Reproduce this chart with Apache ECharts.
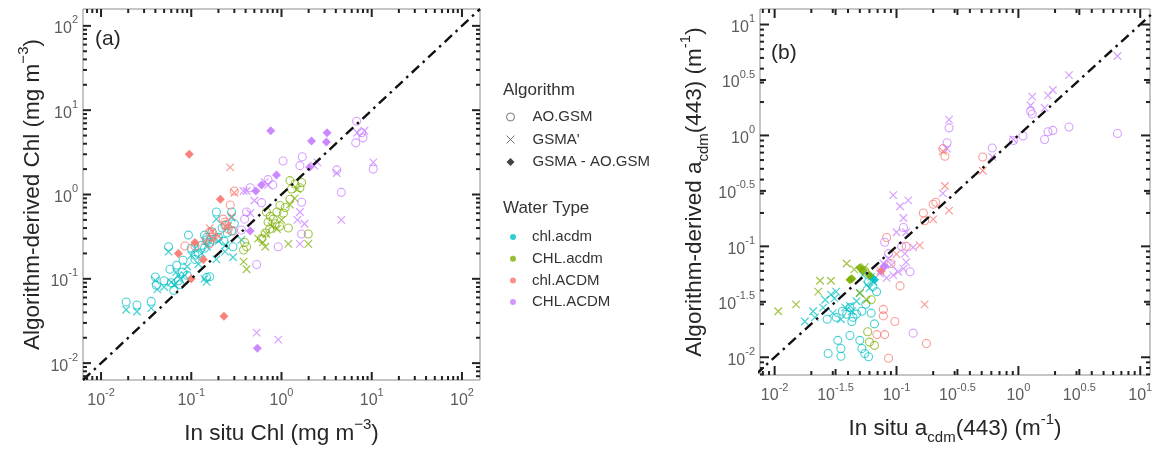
<!DOCTYPE html>
<html>
<head>
<meta charset="utf-8">
<script src="https://cdn.jsdelivr.net/npm/echarts@6/dist/echarts.min.js"></script>
<style>html,body{margin:0;padding:0;background:#fff}#c{width:1157px;height:450px}</style>
</head>
<body>
<div id="c"></div>
<script>
const FONT = "'Liberation Sans', Arial, Helvetica, sans-serif";

// ---------- categories ----------
const waterTypes = ['chl.acdm', 'CHL.acdm', 'chl.ACDM', 'CHL.ACDM'];
const waterColors = ['#00BFC4', '#7CAE00', '#F8766D', '#C77CFF'];
const algorithms = ['AO.GSM', "GSMA'", 'GSMA - AO.GSM'];

// ---------- axis extents & ticks ----------
const extA = [Math.pow(10, -2.2), Math.pow(10, 2.2)];
const extBX = [Math.pow(10, -2.12), Math.pow(10, 1.08)];
const extBY = [Math.pow(10, -2.16), Math.pow(10, 1.14)];

const ticksA = [0.01, 0.1, 1, 10, 100];
const tickLabelsA = ['-2', '-1', '0', '1', '2'];
const minorTicks = [0.007, 0.008, 0.009, 0.02, 0.03, 0.04, 0.05, 0.06, 0.07, 0.08, 0.09,
  0.2, 0.3, 0.4, 0.5, 0.6, 0.7, 0.8, 0.9, 2, 3, 4, 5, 6, 7, 8, 9,
  20, 30, 40, 50, 60, 70, 80, 90];
const ticksB = [0.01, 0.0316228, 0.1, 0.316228, 1, 3.16228, 10];
const tickLabelsB = ['-2', '-1.5', '-1', '-0.5', '0', '0.5', '1'];
const majorTicksB = [0.01, 0.1, 1, 10];
const halfTicksB = [0.0316228, 0.316228, 3.16228];

// ---------- panel (a): Chl, [in situ, derived] ----------
const a_chl_acdm_aogsm = [[0.019,0.053],[0.025,0.049],[0.036,0.054],[0.04,0.105],[0.041,0.084],[0.05,0.095],[0.056,0.24],[0.058,0.13],[0.06,0.09],[0.064,0.073],[0.069,0.145],[0.072,0.095],[0.075,0.085],[0.08,0.12],[0.081,0.166],[0.09,0.11],[0.093,0.33],[0.1,0.23],[0.11,0.19],[0.11,0.17],[0.12,0.2],[0.13,0.25],[0.14,0.33],[0.14,0.23],[0.148,0.29],[0.148,0.31],[0.148,0.104],[0.16,0.106],[0.16,0.27],[0.17,0.36],[0.19,0.62],[0.19,0.3],[0.2,0.31],[0.22,0.4],[0.23,0.28],[0.236,0.43],[0.25,0.35],[0.28,0.62],[0.28,0.37],[0.29,0.24],[0.3,0.45]];
const a_chl_acdm_gsma = [[0.019,0.043],[0.025,0.041],[0.036,0.045],[0.04,0.096],[0.042,0.075],[0.05,0.08],[0.056,0.21],[0.06,0.091],[0.065,0.085],[0.068,0.12],[0.072,0.11],[0.075,0.1],[0.085,0.11],[0.09,0.14],[0.1,0.19],[0.11,0.23],[0.12,0.15],[0.13,0.2],[0.14,0.1],[0.148,0.092],[0.15,0.24],[0.16,0.28],[0.19,0.51],[0.19,0.17],[0.2,0.28],[0.236,0.21],[0.24,0.25],[0.28,0.53],[0.29,0.18],[0.36,0.29]];
const a_chl_acdm_diff = [];
const a_CHL_acdm_aogsm = [[0.38,0.22],[0.39,0.27],[0.41,0.24],[0.6,0.3],[0.66,0.35],[0.68,0.62],[0.71,0.47],[0.74,0.39],[0.75,0.55],[0.81,0.51],[0.85,0.45],[0.89,0.62],[0.95,0.42],[0.96,0.74],[1.05,0.6],[1.1,0.7],[1.19,0.4],[1.24,0.88],[1.24,1.46],[1.29,1.16],[1.41,1.33],[1.6,1.2],[1.67,1.39],[1.98,0.34]];
const a_CHL_acdm_gsma = [[0.38,0.16],[0.41,0.13],[0.55,0.3],[0.62,0.27],[0.66,0.24],[0.68,0.34],[0.78,0.42],[0.89,0.39],[1.0,0.5],[1.19,0.26],[1.24,0.76],[1.4,0.9],[1.5,1.16],[1.98,0.26]];
const a_CHL_acdm_diff = [];
const a_chl_ACDM_aogsm = [[0.085,0.245],[0.11,0.245],[0.16,0.26],[0.16,0.36],[0.168,0.31],[0.175,0.34],[0.226,0.51],[0.236,0.47],[0.24,0.44],[0.257,0.39],[0.27,0.75],[0.29,0.37],[0.3,1.1]];
const a_chl_ACDM_gsma = [[0.14,0.28],[0.16,0.4],[0.17,0.36],[0.175,0.3],[0.2,0.32],[0.24,0.42],[0.257,0.42],[0.27,2.1],[0.28,0.55],[0.3,1.05]];
const a_chl_ACDM_diff = [[0.072,0.2],[0.095,3.0],[0.1,0.1],[0.11,0.27],[0.136,0.17],[0.21,0.88],[0.23,0.036]];
const a_CHL_ACDM_aogsm = [[0.36,0.38],[0.39,0.51],[0.41,0.62],[0.45,1.2],[0.53,0.148],[0.6,0.8],[0.71,1.5],[0.8,1.3],[0.92,0.24],[1.04,2.5],[1.6,2.2],[1.67,0.81],[1.67,0.34],[1.7,2.8],[4.1,1.96],[4.6,1.06],[6.65,4.1],[6.8,7.4],[7.7,5.4],[8.0,4.7],[10.4,2.0]];
const a_CHL_ACDM_gsma = [[0.38,1.1],[0.41,1.1],[0.45,0.6],[0.5,0.85],[0.53,0.023],[0.65,1.4],[0.71,1.3],[0.92,0.019],[1.5,0.5],[1.6,0.26],[1.6,0.62],[1.8,0.45],[2.3,2.2],[2.5,2.4],[4.1,1.8],[4.6,0.5],[6.9,5.4],[8.3,5.7],[10.4,2.4]];
const a_CHL_ACDM_diff = [[0.45,0.37],[0.52,1.1],[0.54,0.015],[0.6,1.3],[0.76,5.7],[0.88,1.7],[2.05,2.1],[2.15,4.3],[3.15,4.2],[3.2,5.4]];

// ---------- panel (b): acdm(443), [in situ, derived] ----------
const b_chl_acdm_aogsm = [[0.0275,0.0108],[0.033,0.0142],[0.035,0.012],[0.035,0.0102],[0.0415,0.0157],[0.05,0.0142],[0.052,0.012],[0.055,0.0108],[0.059,0.0101],[0.043,0.021],[0.052,0.026],[0.066,0.02],[0.0415,0.028],[0.039,0.0244],[0.044,0.0229],[0.032,0.0229],[0.0686,0.039],[0.064,0.0435],[0.059,0.048],[0.047,0.0245],[0.056,0.03],[0.062,0.025],[0.036,0.026],[0.027,0.022]];
const b_chl_acdm_gsma = [[0.0207,0.026],[0.025,0.028],[0.029,0.0367],[0.031,0.034],[0.038,0.028],[0.0415,0.029],[0.043,0.026],[0.057,0.045],[0.06,0.042],[0.064,0.048],[0.062,0.053],[0.053,0.055],[0.032,0.039],[0.0214,0.0229],[0.0177,0.021],[0.03,0.025],[0.047,0.032],[0.05,0.038],[0.026,0.033],[0.035,0.022]];
const b_chl_acdm_diff = [[0.062,0.053],[0.066,0.05]];
const b_CHL_acdm_aogsm = [[0.062,0.033],[0.06,0.0137],[0.066,0.0128],[0.058,0.017],[0.055,0.06]];
const b_CHL_acdm_gsma = [[0.0107,0.026],[0.015,0.030],[0.0228,0.039],[0.0236,0.049],[0.029,0.049],[0.039,0.07],[0.05,0.038],[0.057,0.033],[0.045,0.062],[0.055,0.065]];
const b_CHL_acdm_diff = [[0.0415,0.05],[0.043,0.051],[0.05,0.064],[0.053,0.061],[0.06,0.055]];
const b_chl_ACDM_aogsm = [[0.51,0.64],[0.24,0.76],[0.25,0.65],[0.166,0.2],[0.2,0.24],[0.21,0.25],[0.17,0.17],[0.083,0.12],[0.107,0.044],[0.097,0.021],[0.078,0.027],[0.078,0.0236],[0.069,0.016],[0.08,0.016],[0.176,0.0133],[0.086,0.0098],[0.12,0.1],[0.09,0.07]];
const b_chl_ACDM_gsma = [[0.51,0.48],[0.24,0.72],[0.25,0.35],[0.27,0.21],[0.2,0.175],[0.155,0.102],[0.17,0.03],[0.074,0.06],[0.1,0.085]];
const b_chl_ACDM_diff = [[0.075,0.06]];
const b_CHL_ACDM_aogsm = [[6.5,1.04],[2.6,1.19],[1.64,0.92],[1.75,1.08],[1.92,1.11],[1.26,1.65],[1.3,1.56],[1.09,0.99],[0.91,0.9],[0.61,0.77],[0.27,1.17],[0.26,0.86],[0.114,0.148],[0.129,0.059],[0.137,0.0165],[0.086,0.086],[0.08,0.109],[0.11,0.1]];
const b_CHL_ACDM_gsma = [[6.5,5.2],[2.6,3.5],[1.75,2.3],[1.92,2.57],[1.64,1.77],[1.3,2.24],[1.26,1.86],[0.61,0.64],[0.27,1.39],[0.26,0.76],[0.24,0.3],[0.094,0.29],[0.107,0.23],[0.125,0.26],[0.114,0.18],[0.1,0.134],[0.12,0.134],[0.137,0.098],[0.086,0.078],[0.117,0.086],[0.12,0.072],[0.078,0.07],[0.091,0.068],[0.103,0.059],[0.114,0.063],[0.094,0.055],[0.083,0.052],[0.073,0.057],[0.91,0.92]];
const b_CHL_ACDM_diff = [[0.08,0.066]];

const panelA = [
  [a_chl_acdm_aogsm, a_chl_acdm_gsma, a_chl_acdm_diff],
  [a_CHL_acdm_aogsm, a_CHL_acdm_gsma, a_CHL_acdm_diff],
  [a_chl_ACDM_aogsm, a_chl_ACDM_gsma, a_chl_ACDM_diff],
  [a_CHL_ACDM_aogsm, a_CHL_ACDM_gsma, a_CHL_ACDM_diff]
];
const panelB = [
  [b_chl_acdm_aogsm, b_chl_acdm_gsma, b_chl_acdm_diff],
  [b_CHL_acdm_aogsm, b_CHL_acdm_gsma, b_CHL_acdm_diff],
  [b_chl_ACDM_aogsm, b_chl_ACDM_gsma, b_chl_ACDM_diff],
  [b_CHL_ACDM_aogsm, b_CHL_ACDM_gsma, b_CHL_ACDM_diff]
];

// ---------- styling helpers ----------
const CROSS = 'path://M0,0L10,10M10,0L0,10';
const labelColor = '#5c5c5c';
const titleColor = '#262626';
const tickColor = '#222';
const tickRich = {
  b: { fontSize: 16, fontFamily: FONT, color: labelColor, padding: [6, 0, 0, 0], verticalAlign: 'bottom' },
  s: { fontSize: 11, fontFamily: FONT, color: labelColor, verticalAlign: 'top' }
};
const titleRich = {
  t: { fontSize: 22.5, fontFamily: FONT, color: titleColor, padding: [5, 0, 5, 0] },
  sup: { fontSize: 15, fontFamily: FONT, color: titleColor, verticalAlign: 'top' },
  sub: { fontSize: 15, fontFamily: FONT, color: titleColor, verticalAlign: 'bottom' }
};
function within(list, ext) { return list.filter(v => v >= ext[0] * 0.999 && v <= ext[1] * 1.001); }
function fmt(values, labels) {
  return function (v) {
    let best = 0, bd = Infinity;
    for (let i = 0; i < values.length; i++) {
      const d = Math.abs(Math.log10(v) - Math.log10(values[i]));
      if (d < bd) { bd = d; best = i; }
    }
    return '{b|10}{s|' + labels[best] + '}';
  };
}

function mainAxis(o) {
  return {
    type: 'log', logBase: 10, gridIndex: o.grid, position: o.pos,
    min: o.ext[0], max: o.ext[1],
    axisLine: { show: false },
    axisTick: { show: false },
    axisLabel: { show: true, customValues: o.labelVals, margin: o.margin,
      formatter: fmt(o.labelVals, o.labelTexts), rich: tickRich },
    splitLine: { show: false }, minorTick: { show: false }, minorSplitLine: { show: false },
    silent: true,
    name: o.name, nameLocation: 'middle', nameGap: o.nameGap, nameTextStyle: { rich: titleRich }
  };
}

const xAxes = [
  mainAxis({ grid: 0, pos: 'bottom', ext: extA, labelVals: ticksA, labelTexts: tickLabelsA, margin: 7,
    name: '{t|In situ Chl (mg m}{sup|\u22123}{t|)}', nameGap: 37 }),
  mainAxis({ grid: 1, pos: 'bottom', ext: extBX, labelVals: ticksB, labelTexts: tickLabelsB, margin: 7,
    name: '{t|In situ a}{sub|cdm}{t|(443) (m}{sup|-1}{t|)}', nameGap: 37 })
];
const yAxes = [
  mainAxis({ grid: 0, pos: 'left', ext: extA, labelVals: ticksA, labelTexts: tickLabelsA, margin: 5,
    name: '{t|Algorithm-derived Chl (mg m}{sup|\u22123}{t|)}', nameGap: 34 }),
  mainAxis({ grid: 1, pos: 'left', ext: extBY, labelVals: ticksB, labelTexts: tickLabelsB, margin: 5,
    name: '{t|Algorithm-derived a}{sub|cdm}{t|(443) (m}{sup|-1}{t|)}', nameGap: 49 })
];

// tick marks on all four panel edges, drawn as thin rect symbols placed through the log axes
const TW = 2;
function edgeTicks(list, len, extX, extY) {
  const rows = [];
  within(list, extX).forEach(v => {
    rows.push({ value: [v, extY[0]], symbolSize: [TW, len], symbolOffset: [0, -len / 2] });
    rows.push({ value: [v, extY[1]], symbolSize: [TW, len], symbolOffset: [0, len / 2] });
  });
  within(list, extY).forEach(v => {
    rows.push({ value: [extX[0], v], symbolSize: [len, TW], symbolOffset: [len / 2, 0] });
    rows.push({ value: [extX[1], v], symbolSize: [len, TW], symbolOffset: [-len / 2, 0] });
  });
  return rows;
}
function tickSeries(idx, extX, extY, groups) {
  let rows = [];
  groups.forEach(g => { rows = rows.concat(edgeTicks(g[0], g[1], extX, extY)); });
  return {
    name: 'ticks' + idx, type: 'scatter', xAxisIndex: idx, yAxisIndex: idx, silent: true, z: 6, zlevel: 1, clip: false,
    symbol: 'rect', symbolSize: [TW, 6], data: rows, itemStyle: { color: tickColor, opacity: 1 },
    emphasis: { disabled: true }
  };
}

function markerSeries(panel, idx, prefix) {
  const out = [];
  panel.forEach((group, w) => {
    const col = waterColors[w];
    group.forEach((data, k) => {
      const s = { name: prefix + waterTypes[w] + ' ' + algorithms[k], type: 'scatter',
        xAxisIndex: idx, yAxisIndex: idx, data: data, silent: true, z: 2 };
      if (k === 0) {
        s.symbol = 'circle'; s.symbolSize = 8;
        s.itemStyle = { color: 'rgba(0,0,0,0)', borderColor: col, borderWidth: 1.1, opacity: 0.72 };
      } else if (k === 1) {
        s.symbol = CROSS; s.symbolSize = 7.5;
        s.itemStyle = { color: 'rgba(0,0,0,0)', borderColor: col, borderWidth: 1.2, opacity: 0.72 };
      } else {
        s.symbol = 'diamond'; s.symbolSize = 9;
        s.itemStyle = { color: col, opacity: 0.9 };
      }
      out.push(s);
    });
  });
  return out;
}

function diagonal(idx, ex, ey) {
  const lo = Math.min(ex[0], ey[0]), hi = Math.max(ex[1], ey[1]);
  return { type: 'line', xAxisIndex: idx, yAxisIndex: idx, data: [[lo, lo], [hi, hi]], symbol: 'none',
    silent: true, z: 5, clip: true,
    lineStyle: { color: '#111', width: 2.4, type: [10, 5, 2.5, 5] } };
}

const legendSeries = [
  { name: 'AO.GSM', type: 'scatter', xAxisIndex: 0, yAxisIndex: 0, data: [], symbol: 'circle',
    itemStyle: { color: 'rgba(0,0,0,0)', borderColor: '#555', borderWidth: 1 } },
  { name: "GSMA'", type: 'scatter', xAxisIndex: 0, yAxisIndex: 0, data: [], symbol: CROSS,
    itemStyle: { color: 'rgba(0,0,0,0)', borderColor: '#555', borderWidth: 1 } },
  { name: 'GSMA - AO.GSM', type: 'scatter', xAxisIndex: 0, yAxisIndex: 0, data: [], symbol: 'diamond',
    itemStyle: { color: '#111' } }
].concat(waterTypes.map((w, i) => ({ name: w, type: 'scatter', xAxisIndex: 0, yAxisIndex: 0, data: [],
  symbol: 'circle', itemStyle: { color: waterColors[i] } })));

const option = {
  animation: false,
  backgroundColor: '#fff',
  textStyle: { fontFamily: FONT },
  grid: [
    { left: 83, top: 9, width: 397, height: 373, show: true, borderColor: '#8c8c8c', borderWidth: 1, backgroundColor: 'rgba(0,0,0,0)' },
    { left: 760, top: 9, width: 390, height: 373, show: true, borderColor: '#8c8c8c', borderWidth: 1, backgroundColor: 'rgba(0,0,0,0)' }
  ],
  title: [
    { text: '(a)', left: 95, top: 29, padding: 0, textStyle: { fontSize: 21, fontWeight: 'normal', color: titleColor, fontFamily: FONT } },
    { text: '(b)', left: 771, top: 43, padding: 0, textStyle: { fontSize: 21, fontWeight: 'normal', color: titleColor, fontFamily: FONT } },
    { text: 'Algorithm', left: 503, top: 81, padding: 0, textStyle: { fontSize: 17, lineHeight: 18, fontWeight: 'normal', color: '#333', fontFamily: FONT } },
    { text: 'Water Type', left: 503, top: 199, padding: 0, textStyle: { fontSize: 17, lineHeight: 18, fontWeight: 'normal', color: '#333', fontFamily: FONT } }
  ],
  legend: [
    { data: [{ name: 'AO.GSM' }, { name: "GSMA'" }, { name: 'GSMA - AO.GSM' }],
      orient: 'vertical', left: 506, top: 109, padding: 0, itemWidth: 8, itemHeight: 8, itemGap: 6.5,
      selectedMode: false, itemStyle: { borderWidth: 1 },
      textStyle: { fontSize: 15, lineHeight: 16, color: '#333', fontFamily: FONT, padding: [0, 0, 0, 13] } },
    { data: waterTypes, orient: 'vertical', left: 510, top: 229, padding: 0, itemWidth: 6, itemHeight: 6, itemGap: 5.7,
      selectedMode: false,
      textStyle: { fontSize: 15, lineHeight: 16, color: '#333', fontFamily: FONT, padding: [0, 0, 0, 11] } }
  ],
  xAxis: xAxes,
  yAxis: yAxes,
  series: [].concat(
    markerSeries(panelA, 0, 'a '),
    markerSeries(panelB, 1, 'b '),
    [diagonal(0, extA, extA), diagonal(1, extBX, extBY)],
    [tickSeries(0, extA, extA, [[ticksA, 8], [minorTicks, 4]]),
     tickSeries(1, extBX, extBY, [[majorTicksB, 9], [halfTicksB, 6], [minorTicks, 4]])],
    legendSeries
  )
};

const chart = echarts.init(document.getElementById('c'), null, { renderer: 'canvas' });
chart.setOption(option);
</script>
</body>
</html>
